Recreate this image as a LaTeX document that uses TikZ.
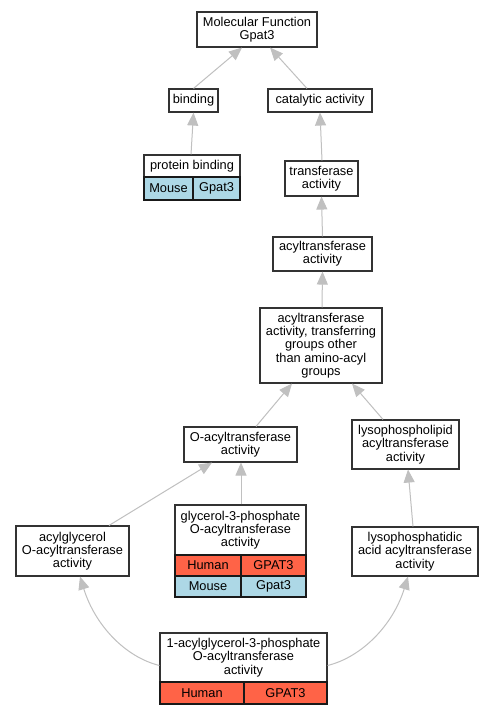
\documentclass[tikz,border=0pt]{standalone}
\usepackage{fontspec}
\setmainfont{Liberation Sans}
\usetikzlibrary{arrows.meta}
\definecolor{human}{HTML}{FF6347}
\definecolor{mouse}{HTML}{ADD8E6}
\definecolor{edgegray}{HTML}{C0C0C0}
\tikzset{
  box/.style={draw=black!80, fill=white, line width=1.1pt, align=center, inner sep=0pt,
    font=\fontsize{12.8}{13.3}\selectfont},
  cell/.style={box, draw=black!90},
  isa/.style={draw=edgegray, line width=1pt, -{Triangle[length=13pt,width=11pt]}},
}
% \bx{name}{x1}{y1}{x2}{y2}{style}{text}
\newcommand{\bx}[7]{\node[box,#6,minimum width=#4pt-#2pt,minimum height=#5pt-#3pt]
  (#1) at ({(#2+#4)/2*1pt},{-(#3+#5)/2*1pt}) {#7};}
\begin{document}
\begin{tikzpicture}[x=1pt,y=1pt]
\useasboundingbox[fill=white] (0,0) rectangle (493,-715);
\bx{mf}{197}{12}{317}{47}{}{Molecular Function\\Gpat3}
\bx{bind}{169}{89}{218}{112}{}{binding}
\bx{cat}{268}{89}{372}{112}{}{catalytic activity}
\bx{pb}{144}{155}{240}{177}{}{protein binding}
\bx{pbm}{144}{177}{193}{200}{cell,fill=mouse}{Mouse}
\bx{pbg}{193}{177}{240}{200}{cell,fill=mouse}{Gpat3}
\bx{tr}{285}{161}{358}{196}{}{transferase\\activity}
\bx{acy}{273}{237}{372}{271}{}{acyltransferase\\activity}
\bx{big}{260}{308}{382}{383}{}{acyltransferase\\activity, transferring\\groups other\\than amino-acyl\\groups}
\bx{oacy}{184}{427}{297}{462}{}{O-acyltransferase\\activity}
\bx{lpl}{352}{420}{459}{469}{}{lysophospholipid\\acyltransferase\\activity}
\bx{agl}{16}{526}{129}{576}{}{acylglycerol\\O-acyltransferase\\activity}
\bx{g3p}{175}{505}{306}{555}{}{glycerol-3-phosphate\\O-acyltransferase\\activity}
\bx{g3ph}{175}{555}{241}{576}{cell,fill=human}{Human}
\bx{g3pg}{241}{555}{306}{576}{cell,fill=human}{GPAT3}
\bx{g3pm}{175}{576}{241}{597}{cell,fill=mouse}{Mouse}
\bx{g3pn}{241}{576}{306}{597}{cell,fill=mouse}{Gpat3}
\bx{lpa}{352}{527}{478}{576}{}{lysophosphatidic\\acid acyltransferase\\activity}
\bx{agp}{160}{633}{327}{682}{}{1-acylglycerol-3-phosphate\\O-acyltransferase\\activity}
\bx{agph}{160}{682}{244}{704}{cell,fill=human}{Human}
\bx{agpg}{244}{682}{327}{704}{cell,fill=human}{GPAT3}
% edges
\draw[isa] (bind.north) -- ([xshift=-15pt]mf.south);
\draw[isa] ([xshift=-13pt]cat.north) -- ([xshift=13pt]mf.south);
\draw[isa] ([xshift=-1pt]pb.north) -- (bind.south);
\draw[isa] ([xshift=0.5pt]tr.north) -- (cat.south);
\draw[isa] (acy.north) -- (tr.south);
\draw[isa] ([xshift=1pt]big.north) -- (acy.south);
\draw[isa] ([xshift=15.5pt]oacy.north) -- ([xshift=-29pt]big.south);
\draw[isa] ([xshift=-22.5pt]lpl.north) -- ([xshift=31pt]big.south);
\draw[isa] ([xshift=36.5pt]agl.north) -- ([xshift=-28.5pt]oacy.south);
\draw[isa] ([xshift=0.5pt]g3p.north) -- ([xshift=0.5pt]oacy.south);
\draw[isa] ([xshift=-2pt]lpa.north) -- ([xshift=2.5pt]lpl.south);
\draw[isa] ([yshift=-8pt]agp.west) .. controls (125,-657) and (95,-625) .. ([xshift=7.5pt]agl.south);
\draw[isa] ([yshift=-8pt]agp.east) .. controls (362,-657) and (393,-625) .. ([xshift=-7pt]lpa.south);
\end{tikzpicture}
\end{document}
